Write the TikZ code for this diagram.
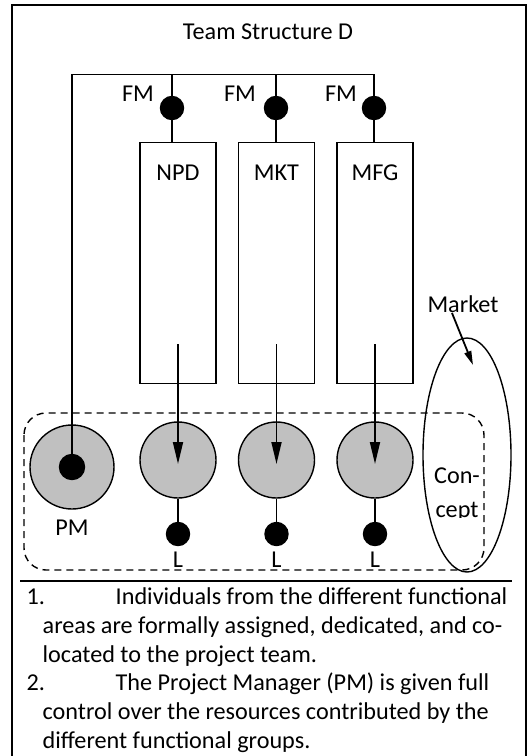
\documentclass[tikz,border=0pt]{standalone}
\usepackage{fontspec}
\setmainfont{Carlito}
\usetikzlibrary{arrows.meta,shapes.geometric}
\definecolor{unitgray}{RGB}{192,192,192}
\begin{document}
\begin{tikzpicture}[x=1pt,y=-1pt,
  font=\fontsize{24.2pt}{29pt}\selectfont,
  line width=1.4pt,
  txt/.style={inner sep=0pt,anchor=base},
  linetxt/.style={inner sep=0pt,anchor=base west},
  dot/.style={circle,fill=black,draw=black,inner sep=0pt,minimum size=23pt},
  funcbox/.style={draw,rectangle,inner sep=0pt,minimum width=76pt,minimum height=241pt,anchor=north},
  unit/.style={circle,draw,fill=unitgray,inner sep=0pt,minimum size=76pt},
  flow/.style={line width=1.8pt,-{Triangle[length=22pt,width=10pt]}},
  pointer/.style={line width=1.8pt,-{Triangle[length=14pt,width=7pt]}},
  teamline/.style={dashed,dash pattern=on 7pt off 5pt,rounded corners=22pt}]
\useasboundingbox (0,0) rectangle (532,756);
\clip (0,0) rectangle (532,756);

% outer frame, running past the lower edge
\draw (12,5) rectangle (526,790);

% title
\node[txt] (title) at (268,39) {Team Structure D};

% functional managers
\node[dot] (fm1) at (172,108) {};
\node[dot] (fm2) at (276,108) {};
\node[dot] (fm3) at (374,108) {};
\node[txt] (fml1) at (138,101) {FM};
\node[txt] (fml2) at (240,101) {FM};
\node[txt] (fml3) at (341,101) {FM};

% functional departments
\node[funcbox] (npd) at (178,142) {};
\node[funcbox] (mkt) at (276.5,142) {};
\node[funcbox] (mfg) at (375,142) {};
\node[txt] (npdl) at (178,180) {NPD};
\node[txt] (mktl) at (276.5,180) {MKT};
\node[txt] (mfgl) at (375,180) {MFG};

% project manager
\node[unit,minimum size=84pt] (pm) at (72,467) {};
\node[dot,minimum size=25pt] (pmdot) at (72,467) {};
\node[txt] (pml) at (72,535) {PM};

% team members
\node[unit] (u1) at (178,460) {};
\node[unit] (u2) at (276.5,460) {};
\node[unit] (u3) at (375,460) {};

% liaisons
\node[dot] (l1) at (178,534) {};
\node[dot] (l2) at (276.5,534) {};
\node[dot] (l3) at (375,534) {};
\node[txt] (ll1) at (178,567) {L};
\node[txt] (ll2) at (276.5,567) {L};
\node[txt] (ll3) at (375,567) {L};

% reporting lines from the project manager to the functional managers
\coordinate (busL) at (72,74.5);
\coordinate (busR) at (374,74.5);
\draw (pmdot.center) -- (busL) -- (busR) -- (fm3);
\draw (fm1) -- (fm1 |- busL);
\draw (fm2) -- (fm2 |- busL);
\draw (fm1) -- (fm1 |- npd.north);
\draw (fm2) -- (fm2 |- mkt.north);
\draw (fm3) -- (fm3 |- mfg.north);

% assignment of people to the team
\coordinate (s1) at (178,344);
\coordinate (s2) at (276.5,344);
\coordinate (s3) at (375,344);
\coordinate (t1) at (178,464);
\coordinate (t2) at (276.5,464);
\coordinate (t3) at (375,464);
\draw[flow] (s1) -- (t1);
\draw[flow] (s2) -- (t2);
\draw[flow] (s3) -- (t3);

\draw (u1) -- (l1);
\draw (u2) -- (l2);
\draw (u3) -- (l3);

% co-located team boundary
\draw[teamline] (24,413) rectangle (484,570);

% market concept
\node[draw,ellipse,inner sep=0pt,minimum width=88pt,minimum height=234pt] (concept) at (467,455) {};
\node[txt] (con1) at (457,483) {Con-};
\begin{scope}
  \clip (420,490) rectangle (500,517);
  \node[txt] (con2) at (457,517) {cept};
\end{scope}
\node[txt] (market) at (463,312) {Market};
\coordinate (mkttip) at (473,365);
\draw[pointer] (452,313) -- (mkttip);

% separator
\draw (20,581) -- (512,581);

% notes
\node[linetxt] (n1) at (26,604.5) {1.};
\node[linetxt] (n1a) at (115,604.5) {Individuals from the different functional};
\node[linetxt] (n1b) at (42,633.3) {areas are formally assigned, dedicated, and co-};
\node[linetxt] (n1c) at (42,662.1) {located to the project team.};
\node[linetxt] (n2) at (26,690.9) {2.};
\node[linetxt] (n2a) at (115,690.9) {The Project Manager (PM) is given full};
\node[linetxt] (n2b) at (42,719.7) {control over the resources contributed by the};
\node[linetxt] (n2c) at (42,748.5) {different functional groups.};
\end{tikzpicture}
\end{document}
